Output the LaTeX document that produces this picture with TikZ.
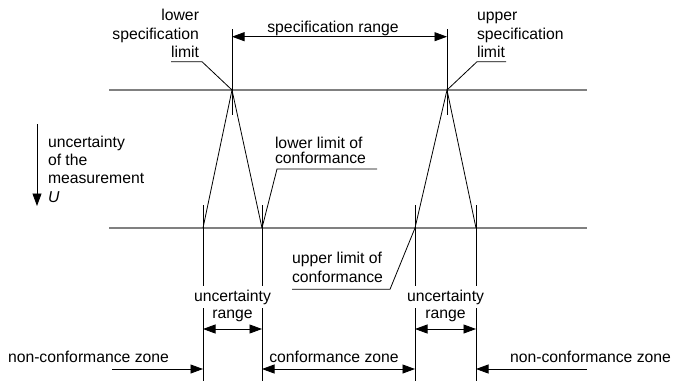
\documentclass[tikz,border=0pt]{standalone}
\usepackage{fontspec}
\setmainfont{Liberation Sans}
\usetikzlibrary{arrows.meta}
\definecolor{refgray}{RGB}{128,128,128}
\begin{document}
\begin{tikzpicture}[x=1bp,y=-1bp,
  every node/.style={font=\fontsize{15.8}{18}\selectfont, inner sep=0pt, outer sep=0pt},
  lbl/.style={anchor=base west},
  lblr/.style={anchor=base east},
  lblc/.style={anchor=base},
  refline/.style={draw=refgray, line width=1.8bp},
  thinline/.style={draw=black, line width=0.8bp},
  tip/.style={-{Triangle[length=12.5bp,width=9bp]}},
  tips/.style={{Triangle[length=12.5bp,width=9bp]}-{Triangle[length=12.5bp,width=9bp]}},
]
\useasboundingbox (0,0) rectangle (676,382);

% key points
\coordinate (topL) at (109,90);
\coordinate (topR) at (587,90);
\coordinate (botL) at (109,228);
\coordinate (botR) at (587,228);
\coordinate (lslTop) at (232,29);
\coordinate (lslApex) at (232,90);
\coordinate (lslBot) at (232,115);
\coordinate (uslTop) at (447,29);
\coordinate (uslApex) at (447,90);
\coordinate (uslBot) at (447,115);
\coordinate (t1top) at (203,205); \coordinate (t1base) at (203,228); \coordinate (t1bot) at (203,381);
\coordinate (t2top) at (262,205); \coordinate (t2base) at (262,228); \coordinate (t2bot) at (262,381);
\coordinate (t3top) at (415,205); \coordinate (t3base) at (415,228); \coordinate (t3bot) at (415,381);
\coordinate (t4top) at (476,205); \coordinate (t4base) at (476,228); \coordinate (t4bot) at (476,381);
\coordinate (srY) at (0,36.7);
\coordinate (urY) at (0,329);
\coordinate (nzL) at (112,369);
\coordinate (nzR) at (587,369);

% reference lines
\draw[refline] (topL) -- (topR);
\draw[refline] (botL) -- (botR);

% specification limits
\draw[thinline] (lslTop) -- (lslBot);
\draw[thinline] (uslTop) -- (uslBot);
\draw[thinline,tips] (lslTop |- srY) -- (uslTop |- srY);

% triangles
\draw[thinline] (t1base) -- (lslApex) -- (t2base);
\draw[thinline] (t3base) -- (uslApex) -- (t4base);

% ticks
\draw[thinline] (t1top) -- (t1bot);
\draw[thinline] (t2top) -- (t2bot);
\draw[thinline] (t3top) -- (t3bot);
\draw[thinline] (t4top) -- (t4bot);

% uncertainty range arrows
\draw[thinline,tips] (t1top |- urY) -- (t2top |- urY);
\draw[thinline,tips] (t3top |- urY) -- (t4top |- urY);

% zone arrows
\draw[thinline,tip] (nzL) -- (t1top |- nzL);
\draw[thinline,tips] (t2top |- nzL) -- (t3top |- nzL);
\draw[thinline,tip] (nzR) -- (t4top |- nzR);

% uncertainty of measurement arrow
\coordinate (uA) at (37,124);
\coordinate (uB) at (37,206);
\draw[thinline,tip] (uA) -- (uB);

% leaders
\coordinate (lslU1) at (171,61.7); \coordinate (lslU2) at (202,61.7);
\draw[thinline] (lslU1) -- (lslU2) -- (lslApex);
\coordinate (uslU1) at (506,61.7); \coordinate (uslU2) at (477,61.7);
\draw[thinline] (uslU1) -- (uslU2) -- (uslApex);
\coordinate (llcU1) at (377,169); \coordinate (llcU2) at (277,169);
\draw[thinline] (llcU1) -- (llcU2) -- (t2base);
\coordinate (ulcU1) at (292,289.3); \coordinate (ulcU2) at (390,289.3);
\draw[thinline] (ulcU1) -- (ulcU2) -- (t3base);

% texts
\node[lblc] (srtext) at (333,32.5) {specification range};

\node[lblr] (lsl1) at (199,20.5) {lower};
\node[lblr] (lsl2) at (199,39) {specification};
\node[lblr] (lsl3) at (199,57.5) {limit};

\node[lbl] (usl1) at (477,20.5) {upper};
\node[lbl] (usl2) at (477,39) {specification};
\node[lbl] (usl3) at (477,57.5) {limit};

\node[lbl] (um1) at (48,147.5) {uncertainty};
\node[lbl] (um2) at (48,165.5) {of the};
\node[lbl] (um3) at (48,183.5) {measurement};
\node[lbl] (um4) at (48,202) {\textit{U}};

\node[lbl] (llc1) at (275,148.3) {lower limit of};
\node[lbl] (llc2) at (275,163.5) {conformance};

\node[lbl] (ulc1) at (292,263) {upper limit of};
\node[lbl] (ulc2) at (292,282.5) {conformance};

\node[lblc, fill=white, inner xsep=1bp, inner ysep=4bp] (ur1a) at (232.5,301) {uncertainty};
\node[lblc] (ur1b) at (232.5,318) {range};
\node[lblc, fill=white, inner xsep=1bp, inner ysep=4bp] (ur2a) at (445.5,301) {uncertainty};
\node[lblc] (ur2b) at (445.5,318) {range};

\node[lbl] (nz1) at (8,362) {non-conformance zone};
\node[lblc] (cz) at (334,362) {conformance zone};
\node[lbl] (nz2) at (510,362) {non-conformance zone};
\end{tikzpicture}
\end{document}
